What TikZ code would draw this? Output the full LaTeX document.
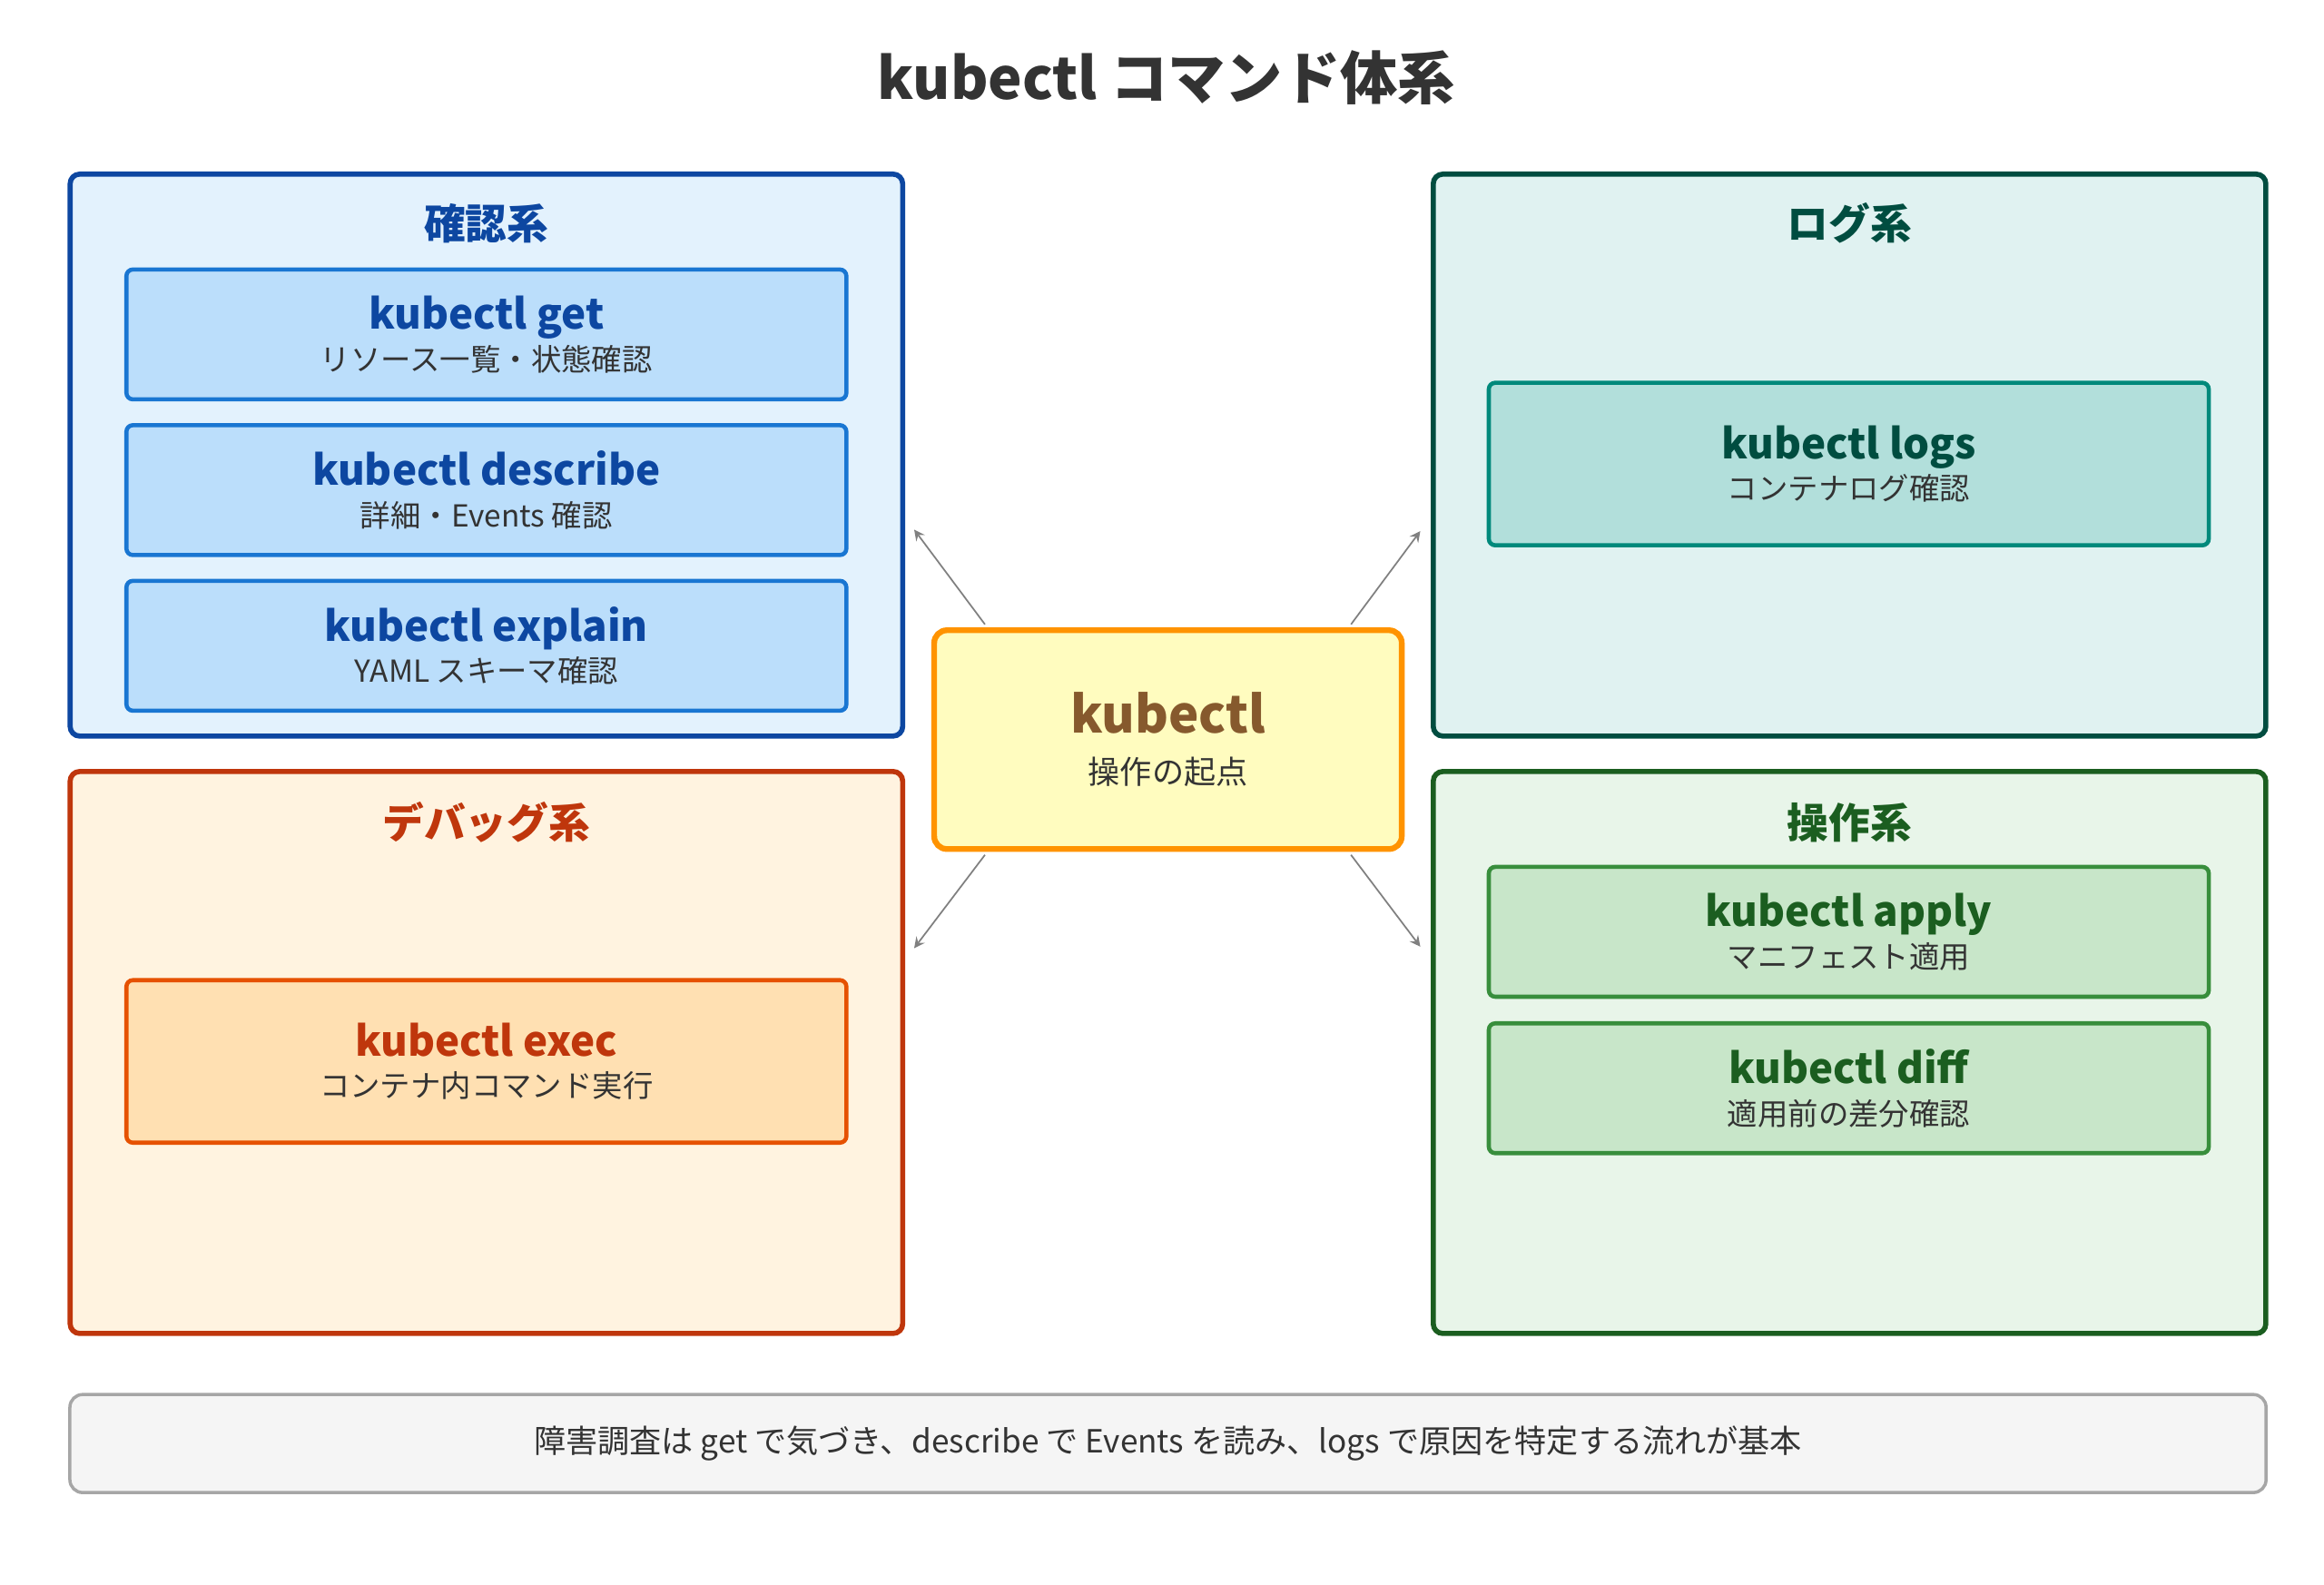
\documentclass[tikz,border=0pt]{standalone}
\usepackage{fontspec}
\setmainfont{Noto Sans CJK JP}
\usetikzlibrary{calc}
\definecolor{blueD}{HTML}{0D47A1}
\definecolor{blueL}{HTML}{E3F2FD}
\definecolor{blueM}{HTML}{BBDEFB}
\definecolor{blueB}{HTML}{1976D2}
\definecolor{tealD}{HTML}{004D40}
\definecolor{tealL}{HTML}{E0F2F1}
\definecolor{tealM}{HTML}{B2DFDB}
\definecolor{tealB}{HTML}{00897B}
\definecolor{orgD}{HTML}{BF360C}
\definecolor{orgL}{HTML}{FFF3E0}
\definecolor{orgM}{HTML}{FFE0B2}
\definecolor{orgB}{HTML}{E65100}
\definecolor{grnD}{HTML}{1B5E20}
\definecolor{grnL}{HTML}{E8F5E9}
\definecolor{grnM}{HTML}{C8E6C9}
\definecolor{grnB}{HTML}{388E3C}
\definecolor{txt}{HTML}{333333}
\begin{document}
\begin{tikzpicture}[
    x=0.1641mm, y=-0.1641mm,
    group/.style={rectangle, rounded corners=3pt, line width=1.6pt, minimum width=9.17cm, minimum height=6.19cm},
    cmd/.style={rectangle, rounded corners=2pt, line width=1.3pt, minimum width=7.93cm, align=center, font=\fontsize{9.5}{13}\selectfont, text=txt},
    gtitle/.style={font=\fontsize{13}{15}\selectfont\bfseries},
    arr/.style={->, >=stealth, draw=gray, line width=0.5pt}
]
\useasboundingbox (0,0) rectangle (1560,1063.4);
% title
\node[font=\fontsize{18}{20}\selectfont\bfseries, text=txt] (title) at (783,52) {kubectl コマンド体系};

% groups
\node[group, draw=blueD, fill=blueL] (conf) at (326.5,305.5) {};
\node[group, draw=tealD, fill=tealL] (logg) at (1241.5,305.5) {};
\node[group, draw=orgD, fill=orgL] (dbg) at (326.5,706.5) {};
\node[group, draw=grnD, fill=grnL] (ops) at (1241.5,706.5) {};
\node[gtitle, text=blueD] (confT) at (326.5,150) {確認系};
\node[gtitle, text=tealD] (loggT) at (1241.5,150) {ログ系};
\node[gtitle, text=orgD] (dbgT) at (326.5,552) {デバッグ系};
\node[gtitle, text=grnD] (opsT) at (1241.5,552) {操作系};

% commands
\node[cmd, draw=blueB, fill=blueM, minimum height=1.43cm] (get) at (326.5,224.5)
  {{\fontsize{13}{16}\selectfont\bfseries\color{blueD}kubectl get}\\リソース一覧・状態確認};
\node[cmd, draw=blueB, fill=blueM, minimum height=1.43cm] (desc) at (326.5,329)
  {{\fontsize{13}{16}\selectfont\bfseries\color{blueD}kubectl describe}\\詳細・Events 確認};
\node[cmd, draw=blueB, fill=blueM, minimum height=1.43cm] (expl) at (326.5,433.5)
  {{\fontsize{13}{16}\selectfont\bfseries\color{blueD}kubectl explain}\\YAML スキーマ確認};
\node[cmd, draw=tealB, fill=tealM, minimum height=1.79cm] (logs) at (1241,311.5)
  {{\fontsize{13}{16}\selectfont\bfseries\color{tealD}kubectl logs}\\コンテナログ確認};
\node[cmd, draw=orgB, fill=orgM, minimum height=1.79cm] (exec) at (326.5,712.5)
  {{\fontsize{13}{16}\selectfont\bfseries\color{orgD}kubectl exec}\\コンテナ内コマンド実行};
\node[cmd, draw=grnB, fill=grnM, minimum height=1.43cm] (apply) at (1241,625.5)
  {{\fontsize{13}{16}\selectfont\bfseries\color{grnD}kubectl apply}\\マニフェスト適用};
\node[cmd, draw=grnB, fill=grnM, minimum height=1.43cm] (diff) at (1241,730.5)
  {{\fontsize{13}{16}\selectfont\bfseries\color{grnD}kubectl diff}\\適用前の差分確認};

% center
\node[rectangle, rounded corners=4pt, line width=1.8pt, draw=orange!85!yellow, fill=yellow!25,
  minimum width=5.15cm, minimum height=2.41cm, align=center, text=txt, font=\fontsize{10}{14}\selectfont] (ctr) at (784,496.5)
  {{\fontsize{16}{22}\selectfont\bfseries\color{brown!70!black}kubectl}\\[2pt]操作の起点};

% arrows
\draw[arr] ($(ctr.north west)+(36,-2)$) -- ($(conf.east)+(6,50)$);
\draw[arr] ($(ctr.north east)+(-36,-2)$) -- ($(logg.west)+(-7,51)$);
\draw[arr] ($(ctr.south west)+(36,2)$) -- ($(dbg.east)+(6,-70)$);
\draw[arr] ($(ctr.south east)+(-36,2)$) -- ($(ops.west)+(-7,-71)$);

% note
\node[rectangle, rounded corners=4pt, line width=1pt, draw=gray!70, fill=gray!8,
  minimum width=24.19cm, minimum height=1.08cm, text=txt, font=\fontsize{10}{12}\selectfont] (note) at (784,969)
  {障害調査は get で気づき、describe で Events を読み、logs で原因を特定する流れが基本};
\end{tikzpicture}
\end{document}
